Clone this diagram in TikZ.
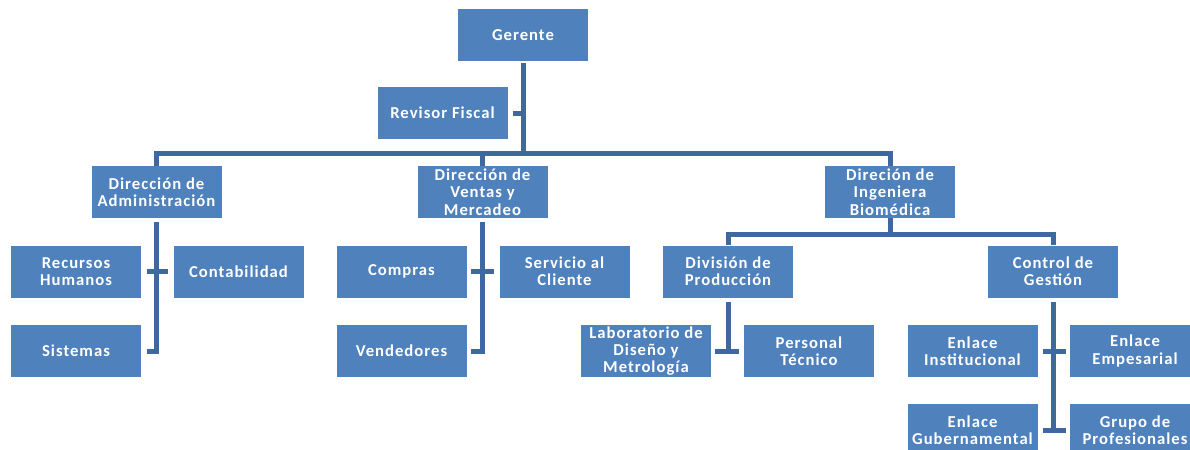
\documentclass[tikz,border=0pt]{standalone}
\usepackage{fontspec}
\setmainfont{Carlito}[LetterSpace=6]
\usepackage{tikz}
\usetikzlibrary{calc}

\definecolor{boxblue}{RGB}{79,129,189}
\definecolor{linkblue}{RGB}{62,104,158}

\tikzset{
  orgbox/.style={fill=boxblue, text=white, minimum width=97.5pt, minimum height=39pt,
    inner sep=1pt, align=center, font=\bfseries\fontsize{12.5}{13}\selectfont},
  link/.style={draw=linkblue, line width=3.75pt}
}

\begin{document}
\begin{tikzpicture}[x=0.75pt,y=0.75pt,yscale=-1,xscale=1]
  \useasboundingbox (0,0) rectangle (1190,450);

  % Text Node
  \node[orgbox] (ger) at (523,35) {Gerente};
  % Text Node
  \node[orgbox] (rev) at (442.5,113) {Revisor Fiscal};
  % Text Node
  \node[orgbox] (adm) at (156.5,192) {Dirección de\\Administración};
  % Text Node
  \node[orgbox] (ven) at (482.5,192) {Dirección de\\Ventas y\\Mercadeo};
  % Text Node
  \node[orgbox] (ing) at (890,192) {Direción de\\Ingeniera\\Biomédica};

  % Text Node
  \node[orgbox] (rh) at (76,271.5) {Recursos\\Humanos};
  % Text Node
  \node[orgbox] (con) at (238.5,271.5) {Contabilidad};
  % Text Node
  \node[orgbox] (sis) at (76,351) {Sistemas};

  % Text Node
  \node[orgbox] (com) at (401.5,271.5) {Compras};
  % Text Node
  \node[orgbox] (ser) at (564.5,271.5) {Servicio al\\Cliente};
  % Text Node
  \node[orgbox] (vnd) at (401.5,351) {Vendedores};

  % Text Node
  \node[orgbox] (div) at (728,271.5) {División de\\Producción};
  % Text Node
  \node[orgbox] (ctl) at (1053,271.5) {Control de\\Gestión};
  % Text Node
  \node[orgbox] (lab) at (646,351) {Laboratorio de\\Diseño y\\Metrología};
  % Text Node
  \node[orgbox] (per) at (809,351) {Personal\\Técnico};
  % Text Node
  \node[orgbox] (ins) at (972.5,351) {Enlace\\Institucional};
  % Text Node
  \node[orgbox] (emp) at (1135,351) {Enlace\\Empesarial};
  % Text Node
  \node[orgbox] (gub) at (972.5,430) {Enlace\\Gubernamental};
  % Text Node
  \node[orgbox] (gru) at (1135,430) {Grupo de\\Profesionales};

  \coordinate (bus) at (523,153);
  \coordinate (sub) at (890,234);

  %Straight Lines
  \draw[link, shorten <=1.5pt] (ger.south) -- (bus);
  \draw[link, shorten <=3.75pt] (rev.east) -- (rev.east -| bus);
  \draw[link] (adm.north) |- (bus) -| (ing.north);
  \draw[link] (ven.north) -- (ven.north |- bus);

  %Straight Lines
  \draw[link, shorten <=3pt, shorten >=4.5pt] (adm.south) |- (sis.east);
  \draw[link, shorten <=4.5pt, shorten >=3.75pt] (rh.east) -- (con.west);

  %Straight Lines
  \draw[link, shorten <=3pt, shorten >=3pt] (ven.south) |- (vnd.east);
  \draw[link, shorten <=3pt, shorten >=3.75pt] (com.east) -- (ser.west);

  %Straight Lines
  \draw[link] (ing.south) -- (sub);
  \draw[link] (div.north) |- (sub) -| (ctl.north);
  \draw[link, shorten <=3pt] (div.south) -- (div.south |- lab.east);
  \draw[link, shorten <=3pt, shorten >=3.75pt] (lab.east) -- (per.west);
  \draw[link, shorten <=3pt] (ctl.south) -- (ctl.south |- gub.east);
  \draw[link, shorten <=3.75pt, shorten >=3pt] (ins.east) -- (emp.west);
  \draw[link, shorten <=3.75pt, shorten >=3pt] (gub.east) -- (gru.west);

\end{tikzpicture}
\end{document}
